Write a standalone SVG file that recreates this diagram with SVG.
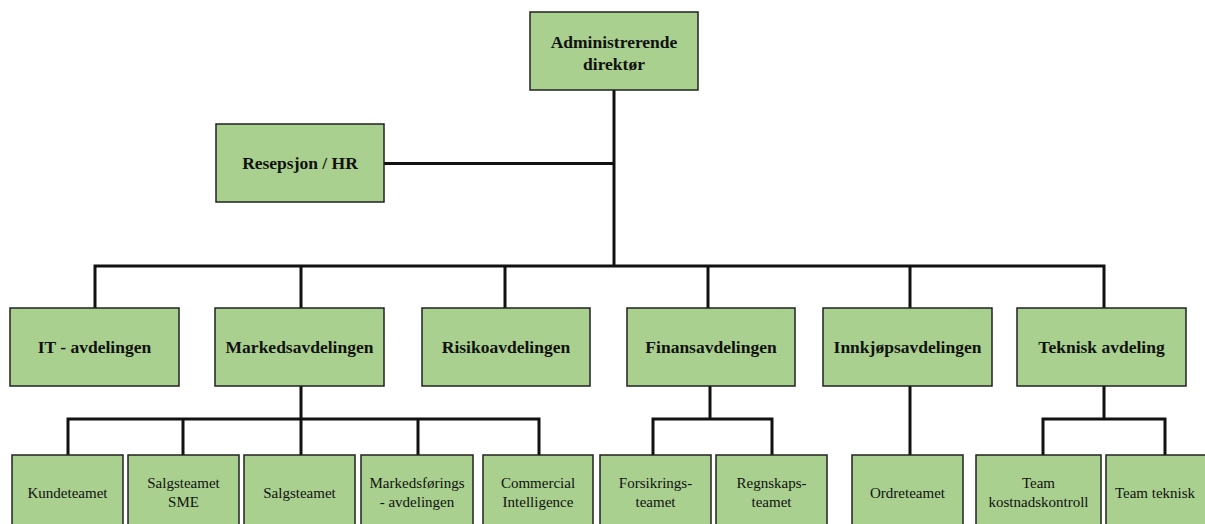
<svg xmlns="http://www.w3.org/2000/svg" width="1205" height="524" viewBox="0 0 1205 524">
<style>
.box{fill:#A9D08E;stroke:#222;stroke-width:1.5}
.b{font-family:"Liberation Serif","Times New Roman",serif;font-weight:bold;font-size:17.5px;fill:#111;text-anchor:middle}
.r{font-family:"Liberation Serif","Times New Roman",serif;font-size:15px;fill:#111;text-anchor:middle}
.c{fill:none;stroke:#111;stroke-width:3;stroke-linejoin:miter;stroke-linecap:butt}
</style>
<rect width="1205" height="524" fill="#fff"/>
<g id="connectors">
<path class="c" d="M614 90V266M384 163.5H614M95 308V266H1104V308M301 266V308M505 266V308M708 266V308M910 266V308"/>
<path class="c" d="M301 386V419M68 455V419H539V455M183 419V455M301 419V455M418 419V455"/>
<path class="c" d="M710 386V419M653 455V419H772V455"/>
<path class="c" d="M910 386V455"/>
<path class="c" d="M1104 386V419M1043 455V419H1165V455"/>
</g>
<g id="n-adm"><rect class="box" x="530" y="12" width="168" height="78"/><text class="b" x="614" y="47.5">Administrerende</text><text class="b" x="614" y="69.5">direktør</text></g>
<g id="n-hr"><rect class="box" x="216" y="124" width="168" height="78"/><text class="b" x="300" y="169">Resepsjon / HR</text></g>
<g id="n-it"><rect class="box" x="10" y="308" width="169" height="78"/><text class="b" x="94.5" y="353">IT - avdelingen</text></g>
<g id="n-markeds"><rect class="box" x="215" y="308" width="169" height="78"/><text class="b" x="299.5" y="353">Markedsavdelingen</text></g>
<g id="n-risiko"><rect class="box" x="422" y="308" width="168" height="78"/><text class="b" x="506" y="353">Risikoavdelingen</text></g>
<g id="n-finans"><rect class="box" x="627" y="308" width="168" height="78"/><text class="b" x="711" y="353">Finansavdelingen</text></g>
<g id="n-innkjop"><rect class="box" x="823" y="308" width="169" height="78"/><text class="b" x="907.5" y="353">Innkjøpsavdelingen</text></g>
<g id="n-teknisk"><rect class="box" x="1017" y="308" width="169" height="78"/><text class="b" x="1101.5" y="353">Teknisk avdeling</text></g>
<g id="n-kunde"><rect class="box" x="12" y="455" width="111" height="80"/><text class="r" x="67.5" y="498">Kundeteamet</text></g>
<g id="n-sme"><rect class="box" x="128" y="455" width="111" height="80"/><text class="r" x="183.5" y="488">Salgsteamet</text><text class="r" x="183.5" y="507">SME</text></g>
<g id="n-salg"><rect class="box" x="244" y="455" width="111" height="80"/><text class="r" x="299.5" y="498">Salgsteamet</text></g>
<g id="n-mf"><rect class="box" x="361" y="455" width="112" height="80"/><text class="r" x="417" y="488">Markedsførings</text><text class="r" x="417" y="507">- avdelingen</text></g>
<g id="n-ci"><rect class="box" x="483" y="455" width="110" height="80"/><text class="r" x="538" y="488">Commercial</text><text class="r" x="538" y="507">Intelligence</text></g>
<g id="n-fors"><rect class="box" x="600" y="455" width="111" height="80"/><text class="r" x="655.5" y="488">Forsikrings-</text><text class="r" x="655.5" y="507">teamet</text></g>
<g id="n-regn"><rect class="box" x="716" y="455" width="111" height="80"/><text class="r" x="771.5" y="488">Regnskaps-</text><text class="r" x="771.5" y="507">teamet</text></g>
<g id="n-ordre"><rect class="box" x="852" y="455" width="111" height="80"/><text class="r" x="907.5" y="498">Ordreteamet</text></g>
<g id="n-kost"><rect class="box" x="976" y="455" width="125" height="80"/><text class="r" x="1038.5" y="488">Team</text><text class="r" x="1038.5" y="507">kostnadskontroll</text></g>
<g id="n-tt"><rect class="box" x="1106" y="455" width="102" height="80"/><text class="r" x="1155" y="498">Team teknisk</text></g>
</svg>
